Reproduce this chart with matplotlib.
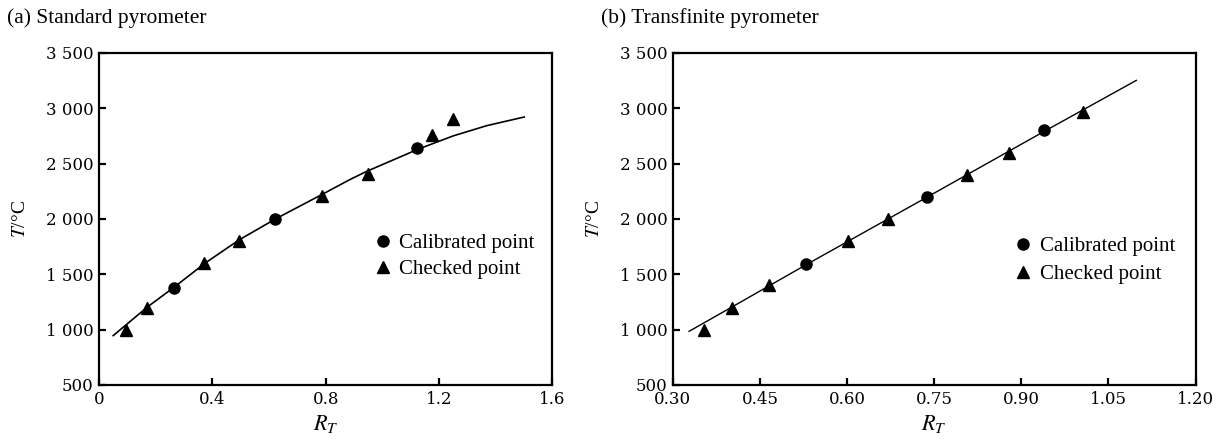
import matplotlib
matplotlib.use("Agg")
import matplotlib.pyplot as plt
from matplotlib.ticker import FuncFormatter

plt.rcParams["font.family"] = ["Liberation Serif", "DejaVu Serif"]
plt.rcParams["mathtext.fontset"] = "stix"

# (a) standard pyrometer
a_cal_x = [0.265, 0.621, 1.124]
a_cal_t = [1380, 2000, 2640]
a_chk_x = [0.095, 0.168, 0.372, 0.494, 0.788, 0.950, 1.177, 1.251]
a_chk_t = [1000, 1200, 1600, 1800, 2210, 2405, 2755, 2900]
a_fit_x = [0.05, 0.171, 0.269, 0.375, 0.496, 0.625, 0.79, 0.885, 0.944, 1.127, 1.251, 1.369, 1.501]
a_fit_t = [946, 1205, 1391, 1602, 1813, 2003, 2225, 2355, 2429, 2631, 2751, 2843, 2921]

# (b) transfinite pyrometer
b_cal_x = [0.529, 0.737, 0.939]
b_cal_t = [1590, 2200, 2800]
b_chk_x = [0.354, 0.402, 0.465, 0.601, 0.671, 0.807, 0.878, 1.006]
b_chk_t = [1000, 1200, 1400, 1800, 2000, 2400, 2600, 2970]
b_fit_x = [0.328, 0.402, 0.529, 0.737, 0.939, 1.098]
b_fit_t = [985, 1205, 1585, 2195, 2790, 3252]

y_ticks = [500, 1000, 1500, 2000, 2500, 3000, 3500]
a_xticks = [0, 0.4, 0.8, 1.2, 1.6]
b_xticks = [0.30, 0.45, 0.60, 0.75, 0.90, 1.05, 1.20]


def thousands(v, _pos):
    v = int(round(v))
    if v >= 1000:
        return f"{v // 1000} {v % 1000:03d}"
    return str(v)


def style(ax, xticks, xfmt):
    ax.set_ylim(500, 3500)
    ax.set_yticks(y_ticks)
    ax.yaxis.set_major_formatter(FuncFormatter(thousands))
    ax.set_xlim(xticks[0], xticks[-1])
    ax.set_xticks(xticks)
    ax.set_xticklabels([xfmt(t) for t in xticks])
    ax.tick_params(direction="in", length=5, width=1.6, labelsize=12, pad=4)
    for lab in ax.get_xticklabels() + ax.get_yticklabels():
        lab.set_family("DejaVu Serif")
    for s in ax.spines.values():
        s.set_linewidth(1.6)
    ax.set_xlabel(r"$R_T$", fontsize=16, labelpad=4)
    ax.set_ylabel(r"$T$/°C", fontsize=14, labelpad=12)


fig = plt.figure(figsize=(12.3, 4.41), dpi=100)
ax1 = fig.add_axes([0.0805, 0.127, 0.3685, 0.753])
ax2 = fig.add_axes([0.547, 0.127, 0.425, 0.753])

ax1.plot(a_fit_x, a_fit_t, color="black", lw=1.2)
ax1.plot(a_cal_x, a_cal_t, "o", color="black", ms=8, label="Calibrated point")
ax1.plot(a_chk_x, a_chk_t, "^", color="black", ms=9, label="Checked point")
style(ax1, a_xticks, lambda t: "0" if t == 0 else f"{t:.1f}")
ax1.legend(loc="upper left", bbox_to_anchor=(0.58, 0.488), frameon=False, fontsize=15,
           handlelength=1.0, handletextpad=0.3, labelspacing=0.32, borderpad=0)

ax2.plot(b_fit_x, b_fit_t, color="black", lw=1.0)
ax2.plot(b_cal_x, b_cal_t, "o", color="black", ms=8, label="Calibrated point")
ax2.plot(b_chk_x, b_chk_t, "^", color="black", ms=9, label="Checked point")
style(ax2, b_xticks, lambda t: f"{t:.2f}")
ax2.legend(loc="upper left", bbox_to_anchor=(0.63, 0.478), frameon=False, fontsize=15,
           handlelength=1.0, handletextpad=0.3, labelspacing=0.4, borderpad=0)

fig.text(0.006, 0.959, "(a) Standard pyrometer", fontsize=15.5, va="center")
fig.text(0.489, 0.959, "(b) Transfinite pyrometer", fontsize=15.5, va="center")

fig.savefig("out.png", dpi=100)
